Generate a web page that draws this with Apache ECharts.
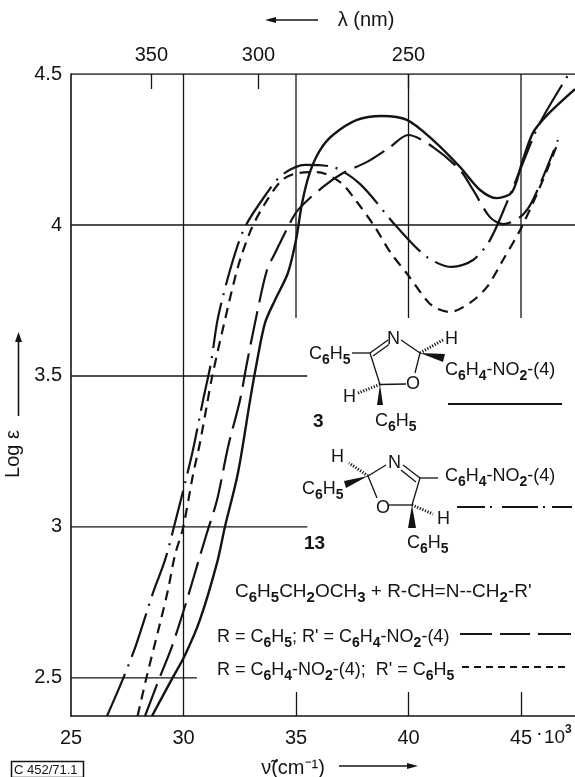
<!DOCTYPE html>
<html><head><meta charset="utf-8">
<script src="https://cdn.jsdelivr.net/npm/echarts@6/dist/echarts.min.js"></script>
<style>html,body{margin:0;padding:0;background:#fff}#c{width:575px;height:777px}</style>
</head><body><div id="c"></div>
<script>
// wavenumber (10^3 cm-1), log epsilon
const solid3 = [[28.6,2.374],[29.49,2.497],[30.07,2.576],[30.73,2.692],[31.49,2.881],[31.84,3.0],[32.42,3.179],[32.96,3.42],[33.22,3.53],[33.62,3.675],[34.07,3.752],[34.64,3.841],[35.0,3.95],[35.27,4.073],[35.62,4.175],[36.07,4.248],[36.64,4.298],[37.71,4.348],[38.82,4.361],[39.93,4.348],[41.09,4.281],[42.29,4.192],[43.18,4.116],[43.93,4.089],[44.6,4.109],[45.04,4.205],[45.53,4.305],[46.16,4.364],[47.4,4.45]];
const dashDot13 = [[26.6,2.374],[27.31,2.497],[27.89,2.609],[28.64,2.781],[29.18,2.891],[29.62,3.013],[30.07,3.146],[30.42,3.255],[30.87,3.42],[31.22,3.543],[31.53,3.692],[32.16,3.874],[32.73,3.993],[33.71,4.106],[34.38,4.166],[35.4,4.199],[36.64,4.192],[37.84,4.136],[39.49,3.993],[40.82,3.894],[41.93,3.861],[42.87,3.884],[43.62,3.95],[44.42,4.083],[44.96,4.182],[45.84,4.338],[47.4,4.533]];
const longDash = [[28.29,2.374],[28.92,2.497],[29.48,2.603],[30.11,2.748],[30.64,2.881],[31.04,2.98],[31.49,3.089],[31.98,3.265],[32.51,3.42],[32.82,3.543],[33.27,3.709],[33.71,3.851],[34.07,3.907],[34.64,3.993],[35.09,4.05],[36.2,4.126],[37.09,4.172],[38.16,4.209],[39.18,4.258],[39.98,4.298],[41.09,4.258],[42.29,4.182],[42.87,4.116],[43.62,4.026],[44.2,4.003],[44.96,4.026],[45.53,4.083],[46.64,4.281]];
const shortDash = [[27.96,2.374],[28.36,2.503],[28.96,2.682],[29.31,2.791],[29.62,2.907],[29.98,2.997],[30.42,3.172],[30.73,3.278],[31.04,3.404],[31.27,3.497],[31.84,3.685],[32.42,3.861],[32.96,3.977],[33.53,4.06],[34.38,4.149],[35.09,4.172],[35.93,4.175],[36.96,4.142],[37.71,4.076],[38.51,3.993],[39.18,3.911],[39.98,3.834],[40.87,3.745],[41.3,3.722],[41.84,3.712],[42.73,3.742],[43.49,3.795],[44.2,3.884],[44.96,3.983],[45.53,4.073],[46.16,4.182],[46.64,4.272]];
const xTicks = [25,30,35,40,45];
const yTicks = [2.5,3,3.5,4,4.5];
const wavelengths = [350,300,250];
const xMin = 25, xMax = 47.4, yMin = 2.374, yMax = 4.5;
// gridline segments [[x1,y1],[x2,y2]]
const gridSegments = [
  [[25,4],[xMax,4]], [[25,3.5],[35.5,3.5]], [[25,3],[35.5,3]], [[25,2.5],[30.6,2.5]],
  [[30,yMin],[30,yMax]], [[35,3.692],[35,yMax]], [[40,3.692],[40,yMax]], [[45,3.692],[45,yMax]],
  [[xMin,yMax],[xMax,yMax]]
];
const FONT = '"Liberation Sans", Arial, sans-serif';
const INK = '#141414';

function richText(x, y, tokens, size, extra) {
  const s = tokens.replace(/_(.)/g, '\u0001$1\u0001').split('\u0001')
    .map((t,i)=> t==='' ? '' : (i%2 ? '{s|'+t+'}' : '{a|'+t+'}')).join('');
  return Object.assign({type:'text', silent:true, style:{x, y, text:s, fill:INK, verticalAlign:'middle', align:'left',
    rich:{a:{fontFamily:FONT,fontSize:size,fill:INK,lineHeight:size+8,verticalAlign:'middle'},
          s:{fontFamily:FONT,fontSize:size-4,fontWeight:'bold',fill:INK,lineHeight:size+8,verticalAlign:'bottom'}}}}, extra||{});
}
function plain(x,y,text,size,opt){
  return {type:'text',silent:true,style:Object.assign({x,y,text,fill:INK,fontFamily:FONT,fontSize:size,verticalAlign:'middle',align:'left'},opt||{})};
}
function seg(x1,y1,x2,y2,w,dash){
  return {type:'line',silent:true,shape:{x1,y1,x2,y2},style:{stroke:INK,lineWidth:w||1.3,lineDash:dash||null}};
}
function poly(pts){ return {type:'polygon',silent:true,shape:{points:pts},style:{fill:INK}}; }

const graphics = [
  seg(272,20,318,20,1.4), poly([[265,20],[276,17],[276,23]]),
  seg(18.5,340,18.5,416,1.6), poly([[18.5,332],[15,342],[22,342]]),
  seg(339,766,410,766,1.4), poly([[418,766],[407,763],[407,769]]),
  plain(536,733,'·',20), plain(544,738,'10',19), plain(565,730,'3',12,{fontWeight:'bold'}),
  {type:'rect',silent:true,shape:{x:11.5,y:761.5,width:72,height:16},style:{fill:'none',stroke:INK,lineWidth:1.5}},
  plain(14,770,'C 452/71.1',13),

  // structure 3
  richText(309,354,'C_6H_5',18),
  plain(387,339,'N',18), plain(445,339,'H',18),
  richText(445,370,'C_6H_4-NO_2-(4)',18),
  plain(406,384,'O',18), plain(343,397,'H',18),
  richText(375,421,'C_6H_5',18),
  plain(313,422,'3',19,{fontWeight:'bold'}),
  seg(352,353,370,353), seg(370,353,388,340), seg(373,356,389,344.5), seg(401,340,420,353), seg(420,353,415,373),
  seg(406,384,380,384.5), seg(380,384.5,370,353),
  poly([[420,353],[443,362],[445,354]]), poly([[380,384.5],[377,405],[383,405]]),
  seg(420,353,443,340,3,[1.2,1.6]), seg(380,384.5,358,393,3,[1.2,1.6]),
  seg(448,404,562,404,2),

  // structure 13
  plain(331,457,'H',18), richText(302,489,'C_6H_5',18),
  plain(388,463,'N',18), richText(445,476,'C_6H_4-NO_2-(4)',18),
  plain(376,508,'O',18), plain(437,519,'H',18),
  richText(407,543,'C_6H_5',18), plain(304,544,'13',19,{fontWeight:'bold'}),
  seg(368,476,386,465), seg(403,465,420,478), seg(401,470,416,482), seg(420,478,438,478),
  seg(420,478,412,505), seg(412,505,389,505), seg(377,498,368,476),
  poly([[368,476],[344,481],[346,488]]), poly([[412,505],[408,528],[416,528]]),
  seg(368,476,349,463,3,[1.2,1.6]), seg(412,505,433,514,3,[1.2,1.6]),
  seg(457,507,485,507,2), seg(490,507,492,507,2), seg(502,507,538,507,2), seg(543,507,545,507,2), seg(552,507,572,507,2),

  // formula lines
  richText(235,592,'C_6H_5CH_2OCH_3 + R-CH=N--CH_2-R\'',19),
  richText(217,637,'R = C_6H_5; R\' = C_6H_4-NO_2-(4)',18),
  richText(217,670,'R = C_6H_4-NO_2-(4);  R\' = C_6H_5',18),
  seg(460,634,492,634,2), seg(500,634,530,634,2), seg(538,634,571,634,2),
  seg(462,667,567,667,2,[7,5])
];

const curve = (name,data,dash,w)=>({name,type:'line',data,smooth:0.3,showSymbol:false,clip:true,silent:true,
  lineStyle:{color:INK,width:w||2.2,type:dash}});
const series = [
  curve('3',solid3,'solid',2.4),
  curve('13',dashDot13,[46,8,2,8]),
  curve('R = C6H5; R\' = C6H4-NO2-(4)',longDash,[34,9]),
  curve('R = C6H4-NO2-(4); R\' = C6H5',shortDash,[10,7])
];
gridSegments.forEach(s=>series.push({type:'line',data:s,showSymbol:false,silent:true,lineStyle:{color:INK,width:1.3}}));

const axisFont = {fontFamily:FONT,fontSize:20,color:INK};
const chart = echarts.init(document.getElementById('c'),null,{renderer:'canvas'});
chart.setOption({
  animation:false, backgroundColor:'#fff',
  grid:{left:71,right:0,top:74,bottom:61,containLabel:false,outerBoundsMode:'none'},
  xAxis:[
    {type:'value',position:'bottom',min:xMin,max:xMax,splitLine:{show:false},
     axisLine:{lineStyle:{color:INK,width:1.6}},
     axisTick:{show:true,inside:true,length:24,customValues:[35,40,45],lineStyle:{color:INK,width:1.3}},
     axisLabel:Object.assign({customValues:xTicks,margin:12},axisFont),
     name:'ν̃(cm⁻¹)',nameLocation:'middle',nameGap:42,
     nameTextStyle:Object.assign({padding:[0,60,0,0]},axisFont)},
    {type:'value',position:'top',min:xMin,max:xMax,splitLine:{show:false},
     axisLine:{show:false},
     axisTick:{show:true,inside:true,length:15,customValues:wavelengths.map(l=>1e4/l),lineStyle:{color:INK,width:1.3}},
     axisLabel:Object.assign({customValues:wavelengths.map(l=>1e4/l),margin:9,formatter:v=>String(Math.round(1e4/v))},axisFont),
     name:'λ (nm)',nameLocation:'middle',nameGap:44,
     nameTextStyle:Object.assign({padding:[0,0,0,86]},axisFont)}
  ],
  yAxis:{type:'value',min:yMin,max:yMax,position:'left',splitLine:{show:false},
     axisLine:{show:true,lineStyle:{color:INK,width:1.6}},axisTick:{show:false},
     axisLabel:Object.assign({customValues:yTicks,margin:9},axisFont),
     name:'Log ε',nameLocation:'middle',nameGap:33,nameRotate:90,
     nameTextStyle:Object.assign({padding:[0,118,0,0]},axisFont)},
  series,
  graphic:{elements:graphics}
});
</script></body></html>
